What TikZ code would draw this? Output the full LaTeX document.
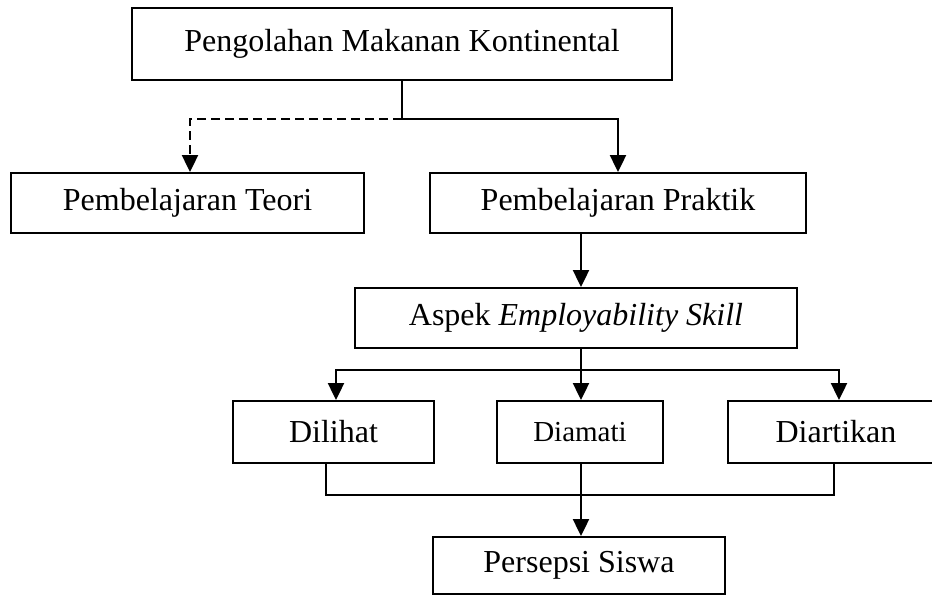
\documentclass[tikz,border=0pt]{standalone}
\usepackage{fontspec}
\setmainfont{Liberation Serif}
\usetikzlibrary{arrows.meta}

\begin{document}
\begin{tikzpicture}[x=0.5pt,y=-0.5pt,
    box/.style={draw,line width=1pt,inner sep=0pt,minimum height=30pt,font=\fontsize{16}{19}\selectfont},
    link/.style={line width=1pt},
    arr/.style={line width=1.2pt,-{Triangle[length=8.5pt,width=8pt]}},
    dashlink/.style={arr,dash pattern=on 4.5pt off 2.5pt}]
    \useasboundingbox (0,0) rectangle (932,596);
    \node[box,minimum width=270pt,minimum height=36pt] (pmk) at (402,44) {Pengolahan Makanan Kontinental};
    \node[box,minimum width=176.5pt] (teori) at (187.5,203) {Pembelajaran Teori};
    \node[box,minimum width=188pt] (praktik) at (618,203) {Pembelajaran Praktik};
    \node[box,minimum width=221pt] (aspek) at (576,318) {Aspek \textit{Employability Skill}};
    \node[box,minimum width=100.5pt,minimum height=31pt] (dilihat) at (333.5,432) {Dilihat};
    \node[box,minimum width=83pt,minimum height=31pt,font=\rmfamily\fontsize{14.5}{17}\selectfont] (diamati) at (580,432) {Diamati};
    \node[box,minimum width=108pt,minimum height=31pt] (diartikan) at (836,432) {Diartikan};
    \node[box,minimum width=146pt,minimum height=28.5pt] (persepsi) at (579,565.5) {Persepsi Siswa};
    \coordinate (spine) at (581,0);
    % cabang dari pengolahan
    \draw[link] (pmk.south) -- ++(0,38) coordinate (fork);
    \draw[dashlink] (fork) -| ([xshift=1.25pt]teori.north);
    \draw[arr] (fork) -| (praktik.north);
    \draw[arr] (praktik.south -| spine) -- (aspek.north -| spine);
    % aspek ke tiga cara
    \draw[link] (aspek.south -| spine) -- ++(0,21) coordinate (branch);
    \foreach \n/\dx in {dilihat/1.25pt,diamati/0.5pt,diartikan/1.5pt}
    \draw[arr] (branch) -| ([xshift=\dx]\n.north);
    % gabung ke persepsi
    \coordinate (kanan) at ([xshift=-1pt]diartikan.south);
    \draw[link] ([xshift=-3.75pt]dilihat.south) -- ++(0,31) coordinate (join) -- (join -| kanan) -- (kanan);
    \draw[arr] ([xshift=0.5pt]diamati.south) -- ([xshift=0.5pt]diamati.south |- persepsi.north);
\end{tikzpicture}
\end{document}
